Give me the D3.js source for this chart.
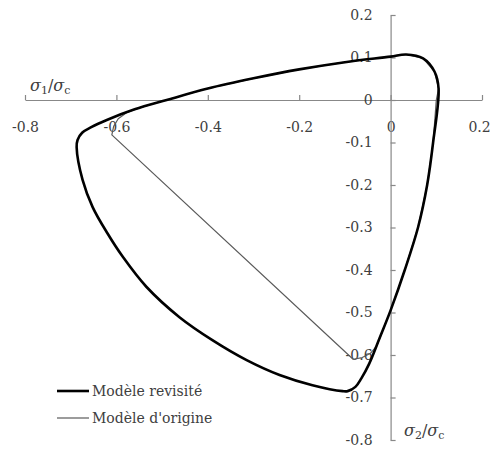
<!DOCTYPE html>
<html>
<head>
<meta charset="utf-8">
<script src="https://cdn.jsdelivr.net/npm/d3@7"></script>
<style>
  html, body { margin: 0; padding: 0; background: #fff; }
  svg { display: block; }
</style>
</head>
<body>
<svg id="chart" width="491" height="455"></svg>
<script>
// Tick values and their labels
const sigma1Ticks = [-0.8, -0.6, -0.4, -0.2, 0, 0.2];
const sigma1TickLabels = ["-0.8", "-0.6", "-0.4", "-0.2", "0", "0.2"];
const sigma2Ticks = [0.2, 0.1, 0, -0.1, -0.2, -0.3, -0.4, -0.5, -0.6, -0.7, -0.8];
const sigma2TickLabels = ["0.2", "0.1", "0", "-0.1", "-0.2", "-0.3", "-0.4", "-0.5", "-0.6", "-0.7", "-0.8"];

// Revisited model: closed envelope, [σ1/σc, σ2/σc]
const revisitedS1 = [-0.685, -0.675, -0.655, -0.621, -0.56, -0.49, -0.40, -0.30, -0.20, -0.10, 0.0, 0.034, 0.071, 0.096, 0.105, 0.093, 0.08, 0.06, 0.031, 0.0, -0.024, -0.047, -0.064, -0.077, -0.094, -0.105, -0.171, -0.243, -0.315, -0.39, -0.462, -0.534, -0.586, -0.620, -0.652, -0.674, -0.687];
const revisitedS2 = [-0.094, -0.077, -0.064, -0.047, -0.022, 0.0, 0.027, 0.051, 0.072, 0.089, 0.102, 0.107, 0.098, 0.067, 0.027, -0.10, -0.20, -0.30, -0.40, -0.495, -0.56, -0.621, -0.655, -0.675, -0.685, -0.685, -0.671, -0.647, -0.612, -0.565, -0.511, -0.44, -0.369, -0.313, -0.252, -0.188, -0.111];

// Original model: closed envelope with a straight compressive side
const originS1 = [-0.61, -0.606, -0.596, -0.578, -0.556, -0.527, -0.49, -0.40, -0.30, -0.20, -0.10, 0.0, 0.034, 0.071, 0.096, 0.105, 0.1, 0.093, 0.08, 0.06, 0.031, 0.0, -0.012, -0.022, -0.030, -0.044, -0.062, -0.082];
const originS2 = [-0.082, -0.062, -0.044, -0.030, -0.021, -0.011, 0.0, 0.027, 0.051, 0.072, 0.089, 0.102, 0.107, 0.098, 0.067, 0.027, 0.0, -0.10, -0.20, -0.30, -0.40, -0.495, -0.527, -0.556, -0.578, -0.596, -0.606, -0.61];

const seriesNames = ["Modèle revisité", "Modèle d'origine"];

const svg = d3.select("#chart");
const textColor = "#404040";
const axisColor = "#888888";
const fontFamily = "'DejaVu Serif', serif";

const x = d3.scaleLinear().domain([-0.8, 0.2]).range([25, 482]);
const y = d3.scaleLinear().domain([-0.8, 0.2]).range([440, 15]);

// Horizontal axis through σ2 = 0
const xAxis = d3.axisBottom(x)
  .tickValues(sigma1Ticks)
  .tickFormat((d, i) => sigma1TickLabels[i])
  .tickSizeInner(-5)
  .tickSizeOuter(0)
  .tickPadding(22);

const gx = svg.append("g")
  .attr("transform", `translate(0,${y(0)})`)
  .call(xAxis);

// Vertical axis through σ1 = 0
const yAxis = d3.axisLeft(y)
  .tickValues(sigma2Ticks)
  .tickFormat((d, i) => sigma2TickLabels[i])
  .tickSizeInner(-5)
  .tickSizeOuter(0)
  .tickPadding(18);

const gy = svg.append("g")
  .attr("transform", `translate(${x(0)},0)`)
  .call(yAxis);

[gx, gy].forEach(g => {
  g.attr("font-family", fontFamily).attr("font-size", 14);
  g.selectAll(".domain").attr("stroke", axisColor).attr("stroke-width", 1.2);
  g.selectAll(".tick line").attr("stroke", axisColor).attr("stroke-width", 1.2);
  g.selectAll(".tick text").attr("fill", textColor);
});
// keep the last label inside the frame
gx.selectAll(".tick text").filter((d, i, n) => i === n.length - 1).attr("dx", -3);

// Curves
const originPts = originS1.map((v, i) => [v, originS2[i]]);
const revisitedPts = revisitedS1.map((v, i) => [v, revisitedS2[i]]);

const lineLinear = d3.line().x(d => x(d[0])).y(d => y(d[1])).curve(d3.curveLinearClosed);
const lineSmooth = d3.line().x(d => x(d[0])).y(d => y(d[1])).curve(d3.curveCatmullRomClosed.alpha(0.5));

svg.append("path")
  .attr("d", lineLinear(originPts))
  .attr("fill", "none")
  .attr("stroke", "#5a5a5a")
  .attr("stroke-width", 1.2)
  .attr("stroke-linejoin", "round");

svg.append("path")
  .attr("d", lineSmooth(revisitedPts))
  .attr("fill", "none")
  .attr("stroke", "#000")
  .attr("stroke-width", 2.6)
  .attr("stroke-linejoin", "round");

// Axis titles: σ1/σc and σ2/σc
function axisTitle(px, py, sub) {
  const t = svg.append("text")
    .attr("x", px).attr("y", py)
    .attr("font-family", fontFamily)
    .attr("font-size", 16)
    .attr("fill", textColor);
  t.append("tspan").attr("font-style", "italic").text("σ");
  t.append("tspan").attr("font-size", 11).attr("dy", 3).text(sub);
  t.append("tspan").attr("dy", -3).text("/");
  t.append("tspan").attr("font-style", "italic").text("σ");
  t.append("tspan").attr("font-size", 11).attr("dy", 3).text("c");
}
axisTitle(30, 91, "1");
axisTitle(404, 436, "2");

// Legend
const legend = svg.append("g").attr("font-family", fontFamily).attr("font-size", 14).attr("fill", textColor);
const legendStyles = [{ w: 2.6, c: "#000" }, { w: 1.2, c: "#5a5a5a" }];
seriesNames.forEach((name, i) => {
  const ly = 391 + i * 27;
  legend.append("line")
    .attr("x1", 57).attr("x2", 89)
    .attr("y1", ly).attr("y2", ly)
    .attr("stroke", legendStyles[i].c)
    .attr("stroke-width", legendStyles[i].w);
  legend.append("text")
    .attr("x", 92).attr("y", ly + 5)
    .text(name);
});
</script>
</body>
</html>
